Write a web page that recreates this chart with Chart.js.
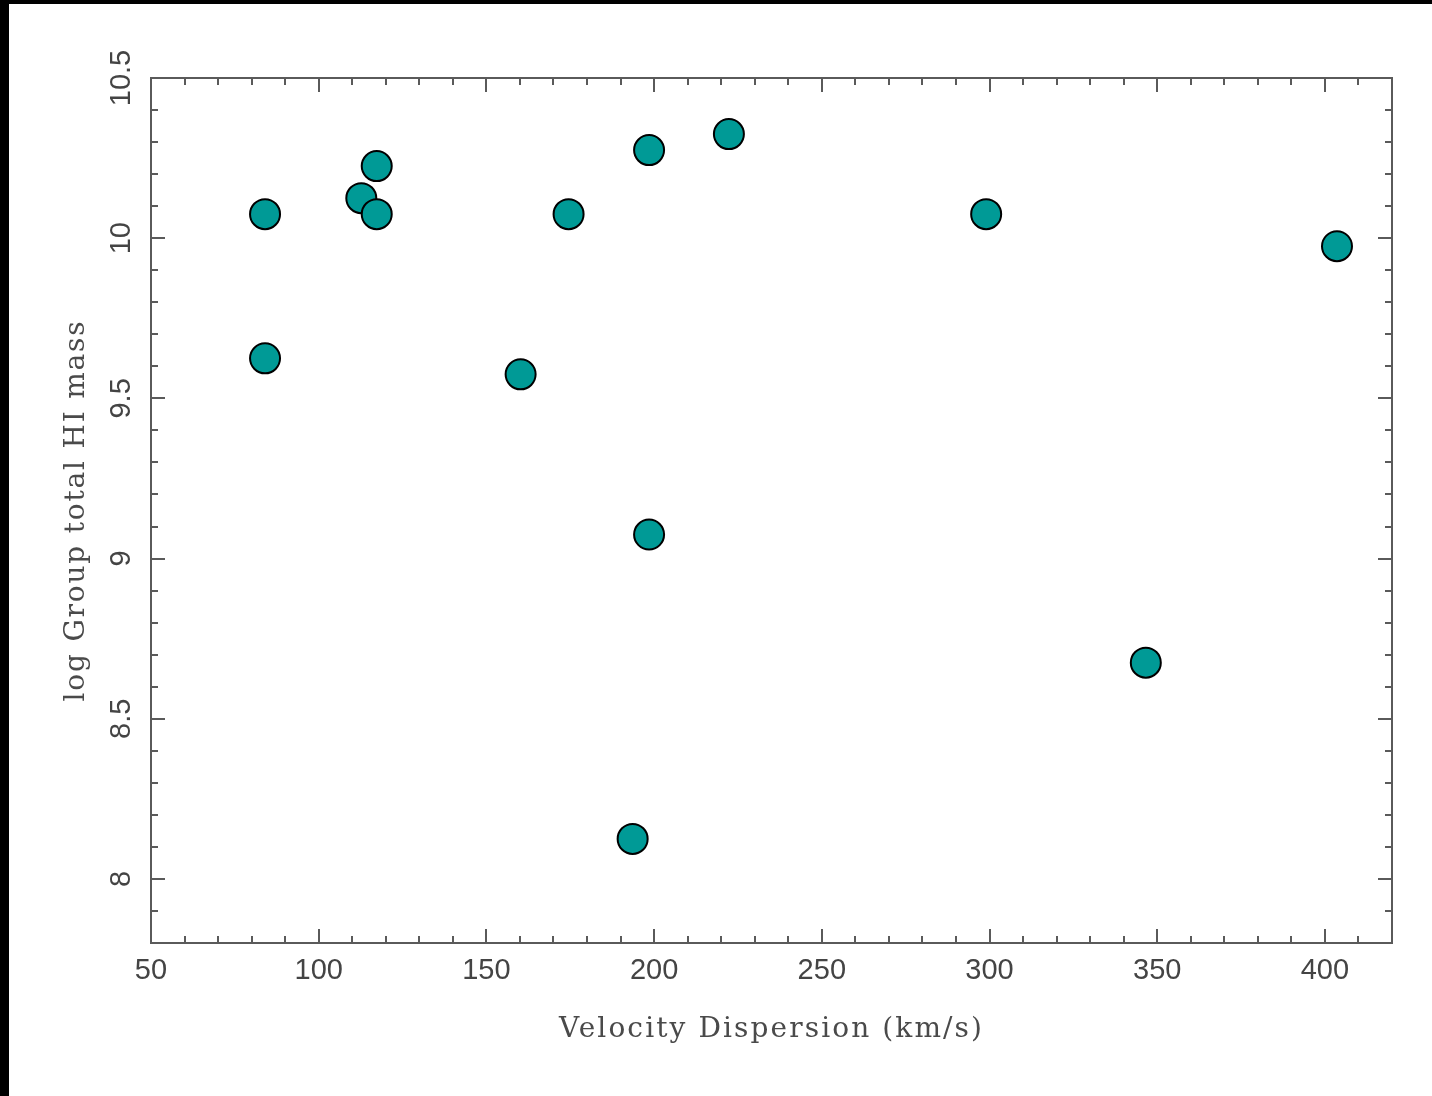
<!DOCTYPE html>
<html>
<head>
<meta charset="utf-8">
<style>
  html, body { margin: 0; padding: 0; background: #fff; }
  #wrap { position: absolute; left: 0; top: 0; width: 1432px; height: 1096px; }
</style>
<script src="https://cdn.jsdelivr.net/npm/chart.js@4/dist/chart.umd.min.js"></script>
</head>
<body>
<div id="wrap"><canvas id="c" width="1432" height="1096"></canvas></div>
<script>
// ---- data ----
const velocityDispersion = [84, 84, 112.7, 117.3, 117.3, 160.2, 174.5, 198.5, 198.5, 193.6, 222.3, 299, 346.6, 403.6];
const logHIMass          = [10.075, 9.625, 10.125, 10.225, 10.075, 9.575, 10.075, 10.275, 9.075, 8.125, 10.325, 10.075, 8.675, 9.975];
const xTickLabels = [50, 100, 150, 200, 250, 300, 350, 400];
const yTickLabels = [8, 8.5, 9, 9.5, 10, 10.5];
const xTitle = 'Velocity Dispersion (km/s)';
const yTitle = 'log Group total HI mass';

const points = velocityDispersion.map((v, i) => ({ x: v, y: logHIMass[i] }));

const AXIS_COLOR = '#5a5a5a';
const TEXT_COLOR = '#444';
const FONT_TICK = '29px "Liberation Sans", Arial, sans-serif';
const FONT_TITLE = '28px "DejaVu Serif", serif';

function fitText(ctx, text, targetWidth) {
  ctx.letterSpacing = '0px';
  const w = ctx.measureText(text).width;
  const n = Math.max(1, text.length - 1);
  const ls = (targetWidth - w) / n;
  ctx.letterSpacing = ls.toFixed(2) + 'px';
}

const framePlugin = {
  id: 'frame',
  beforeDraw(chart) {
    const ctx = chart.ctx;
    ctx.save();
    ctx.fillStyle = '#fff';
    ctx.fillRect(0, 0, chart.width, chart.height);
    ctx.fillStyle = '#000';
    ctx.fillRect(0, 0, chart.width, 4);
    ctx.fillRect(0, 0, 9, chart.height);
    ctx.restore();
  },
  afterDraw(chart) {
    const ctx = chart.ctx;
    const xs = chart.scales.x, ys = chart.scales.y;
    const a = chart.chartArea;
    ctx.save();
    ctx.strokeStyle = AXIS_COLOR;
    ctx.lineWidth = 2;
    ctx.beginPath();
    for (let v = 50; v <= 420; v += 10) {
      const px = Math.round(xs.getPixelForValue(v));
      const major = v % 50 === 0;
      const len = major ? 14 : 7;
      ctx.moveTo(px, a.bottom); ctx.lineTo(px, a.bottom - len);
      ctx.moveTo(px, a.top); ctx.lineTo(px, a.top + len);
    }
    for (let k = 78; k <= 105; k++) {
      const v = k / 10;
      const py = Math.round(ys.getPixelForValue(v));
      const major = k % 5 === 0;
      const len = major ? 14 : 7;
      ctx.moveTo(a.left, py); ctx.lineTo(a.left + len, py);
      ctx.moveTo(a.right, py); ctx.lineTo(a.right - len, py);
    }
    ctx.stroke();

    ctx.fillStyle = TEXT_COLOR;
    ctx.font = FONT_TICK;
    ctx.textAlign = 'center';
    ctx.textBaseline = 'middle';
    xTickLabels.forEach(v => {
      ctx.fillText(String(v), xs.getPixelForValue(v), a.bottom + 28);
    });
    yTickLabels.forEach(v => {
      ctx.save();
      ctx.translate(a.left - 29, ys.getPixelForValue(v));
      ctx.rotate(-Math.PI / 2);
      ctx.fillText(String(v), 0, 0);
      ctx.restore();
    });

    ctx.font = FONT_TITLE;
    ctx.fillStyle = '#4a4a4a';
    fitText(ctx, xTitle, 423);
    ctx.fillText(xTitle, (a.left + a.right) / 2, a.bottom + 87);
    ctx.save();
    ctx.translate(a.left - 74, (a.top + a.bottom) / 2);
    ctx.rotate(-Math.PI / 2);
    fitText(ctx, yTitle, 380);
    ctx.fillText(yTitle, 0, 0);
    ctx.restore();
    ctx.restore();
  }
};

const axisCommon = {
  type: 'linear',
  grid: { display: false, drawTicks: false },
  ticks: { display: false },
  border: { display: true, color: AXIS_COLOR, width: 2 },
  title: { display: false }
};

new Chart(document.getElementById('c'), {
  type: 'scatter',
  data: {
    datasets: [{
      data: points,
      backgroundColor: '#009a96',
      borderColor: '#000',
      borderWidth: 2,
      pointRadius: 15,
      pointHoverRadius: 15
    }]
  },
  options: {
    responsive: false,
    animation: false,
    devicePixelRatio: 1,
    layout: { padding: { left: 151, top: 78, right: 40, bottom: 153 } },
    plugins: { legend: { display: false }, tooltip: { enabled: false } },
    scales: {
      x: Object.assign({}, axisCommon, { position: 'bottom', min: 50, max: 420 }),
      y: Object.assign({}, axisCommon, { position: 'left', min: 7.8, max: 10.5 }),
      x2: Object.assign({}, axisCommon, { position: 'top', min: 50, max: 420 }),
      y2: Object.assign({}, axisCommon, { position: 'right', min: 7.8, max: 10.5 })
    }
  },
  plugins: [framePlugin]
});
</script>
</body>
</html>
